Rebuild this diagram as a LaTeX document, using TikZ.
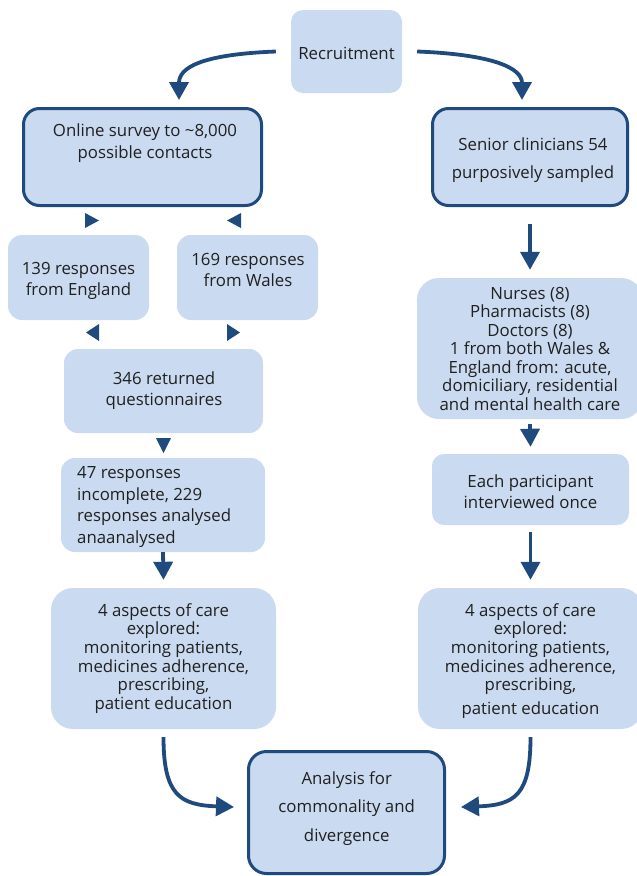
\documentclass[tikz,border=0pt]{standalone}
\usepackage{fontspec}
\setmainfont{Open Sans}
\usetikzlibrary{arrows.meta}
\definecolor{boxfill}{HTML}{CADAF0}
\definecolor{navy}{HTML}{1F4A7E}
\definecolor{ink}{HTML}{202020}
\begin{document}
\begin{tikzpicture}[x=1pt,y=1pt,
  box/.style={fill=boxfill, rounded corners=#1, inner sep=0pt},
  framed/.style={draw=navy, line width=3pt},
  txt/.style={text=ink, align=center, inner sep=0pt, font=\fontsize{16.8}{#1}\selectfont},
  arr/.style={draw=navy, line width=3.8pt, -{Triangle[length=18pt,width=19pt]}},
  tri/.style={fill=navy}]
\clip (0,0) rectangle (637,-876);
\fill[white] (0,0) rectangle (637,-876);
% boxes
\node[box=12pt, minimum width=111pt, minimum height=83pt] (rec) at (346.5,-51.5) {};
\node[box=16pt, framed, minimum width=238pt, minimum height=97pt] (survey) at (142.5,-157) {};
\node[box=16pt, framed, minimum width=195pt, minimum height=97pt] (senior) at (530,-157) {};
\node[box=14pt, minimum width=141pt, minimum height=85pt] (eng) at (78.5,-277.5) {};
\node[box=14pt, minimum width=141pt, minimum height=85pt] (wal) at (247.5,-277.5) {};
\node[box=14pt, minimum width=199pt, minimum height=84pt] (ret) at (163.5,-391) {};
\node[box=14pt, minimum width=204pt, minimum height=94pt] (inc) at (163,-505) {};
\node[box=22pt, minimum width=225pt, minimum height=141pt] (aspL) at (163.5,-658.5) {};
\node[box=22pt, minimum width=226pt, minimum height=141pt] (nurses) at (530,-348.5) {};
\node[box=12pt, minimum width=197pt, minimum height=71pt] (each) at (530.5,-489.5) {};
\node[box=22pt, minimum width=225pt, minimum height=141pt] (aspR) at (530.5,-658.5) {};
\node[box=18pt, framed, minimum width=196pt, minimum height=122pt] (ana) at (346.5,-812.5) {};
% texts
\node[txt=21pt] (rec-t) at (346.5,-53) {Recruitment};
\node[txt=22pt] (survey-t) at (145,-143.5) {Online survey to \textasciitilde8,000\\possible contacts};
\node[txt=28.5pt] (senior-t) at (533,-160) {Senior clinicians 54\\purposively sampled};
\node[txt=21pt] (eng-t) at (78.5,-280.5) {139 responses\\from England};
\node[txt=21pt] (wal-t) at (248,-270) {169 responses\\from Wales};
\node[txt=21pt] (ret-t) at (164,-390.5) {346 returned\\questionnaires};
\node[txt=21.7pt, align=left, anchor=west] (inc-t) at (77,-507) {47 responses\\incomplete, 229\\responses analysed\\anaanalysed};
\node[txt=18.7pt] (aspL-t) at (163.5,-658.5) {4 aspects of care\\explored:\\monitoring patients,\\medicines adherence,\\prescribing,\\patient education};
\node[txt=18.5pt] (nurses-t) at (530,-348.5) {Nurses (8)\\Pharmacists (8)\\Doctors (8)\\1 from both Wales \&\\England from: acute,\\domiciliary, residential\\and mental health care};
\node[txt=21pt] (each-t) at (530.5,-491.5) {Each participant\\interviewed once};
\node[txt=18.7pt] (aspR-t) at (530.5,-661) {4 aspects of care\\explored:\\monitoring patients,\\medicines adherence,\\prescribing,\\[5pt]patient education};
\node[txt=28.5pt] (ana-t) at (346.7,-808.5) {Analysis for\\commonality and\\divergence};
% arrow end points
\coordinate (a1) at (179,-100);
\coordinate (a2) at (522,-100);
\coordinate (a3) at (234,-807);
\coordinate (a4) at (461,-807);
% curved connectors
\draw[arr] ([xshift=-15pt]rec.west) .. controls +(-76,-3) and +(0,32) .. (a1);
\draw[arr] ([xshift=15pt]rec.east) .. controls +(76,-3) and +(0,32) .. (a2);
\draw[arr] ([yshift=-8pt]aspL.south) .. controls +(0,-58) and +(-54,2) .. (a3);
\draw[arr] ([yshift=-8pt]aspR.south) .. controls +(0,-58) and +(54,2) .. (a4);
% straight connectors
\draw[arr] ([yshift=-16.5pt]senior.south) -- ([yshift=8pt]nurses.north);
\draw[arr] ([yshift=-5pt]nurses.south) -- ([yshift=7pt]each.north);
\draw[arr] ([yshift=-7pt]each.south) -- ([yshift=8pt]aspR.north);
\draw[arr] (inc.south) -- ([yshift=8pt]aspL.north);
% small triangles
\fill[tri] (85,-213) -- (99,-220.5) -- (85,-228) -- cycle;
\fill[tri] (241,-213) -- (227,-220.5) -- (241,-228) -- cycle;
\fill[tri] (99,-324) -- (86,-332.5) -- (99,-341) -- cycle;
\fill[tri] (227,-324) -- (240,-332.5) -- (227,-341) -- cycle;
\fill[tri] (156,-438) -- (171,-438) -- (163.5,-453) -- cycle;
\end{tikzpicture}
\end{document}
